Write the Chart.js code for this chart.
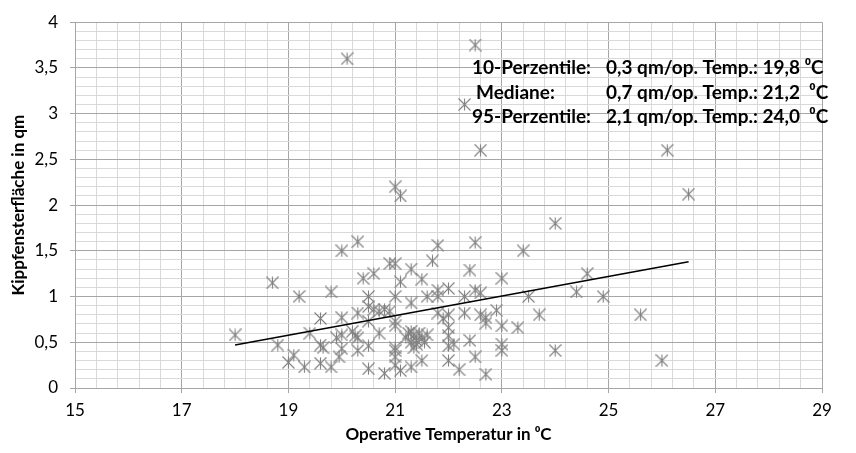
<!DOCTYPE html>
<html>
<head>
<meta charset="utf-8">
<script src="https://cdn.jsdelivr.net/npm/chart.js@4"></script>
<style>
  html, body { margin: 0; padding: 0; background: #fff; }
  #wrap { width: 856px; height: 453px; }
</style>
</head>
<body>
<div id="wrap"><canvas id="scatterChart"></canvas></div>
<script>
// Kippfensterfläche (qm) über operativer Temperatur (°C)
const temperatures = [
  18.0, 18.7, 18.8, 19.0, 19.1, 19.2, 19.3, 19.4, 19.6, 19.6,
  19.6, 19.65, 19.8, 19.8, 19.9, 19.95, 20.0, 20.0, 20.0, 20.0,
  20.1, 20.2, 20.25, 20.3, 20.3, 20.3, 20.3, 20.4, 20.5, 20.5,
  20.5, 20.5, 20.5, 20.6, 20.6, 20.7, 20.7, 20.8, 20.8, 20.9,
  20.9, 21.0, 21.0, 21.0, 21.0, 21.0, 21.0, 21.0, 21.0, 21.0,
  21.1, 21.1, 21.1, 21.3, 21.3, 21.3, 21.35, 21.2, 21.25, 21.3,
  21.35, 21.4, 21.45, 21.5, 21.55, 21.6, 21.3, 21.4, 21.5, 21.5,
  21.6, 21.7, 21.8, 21.8, 21.8, 21.8, 21.9, 22.0, 22.0, 22.0,
  22.0, 22.0, 22.0, 22.1, 22.2, 22.3, 22.3, 22.3, 22.4, 22.4,
  22.5, 22.5, 22.5, 22.5, 22.6, 22.6, 22.6, 22.7, 22.7, 22.7,
  22.9, 23.0, 23.0, 23.0, 23.0, 23.3, 23.4, 23.5, 23.7, 24.0,
  24.0, 24.4, 24.6, 24.9, 25.6, 26.0, 26.1, 26.5
];
const areas = [
  0.58, 1.15, 0.47, 0.28, 0.36, 1.0, 0.23, 0.6, 0.76, 0.27,
  0.47, 0.44, 1.05, 0.23, 0.55, 0.34, 0.43, 0.77, 0.58, 1.5,
  3.6, 0.62, 0.57, 1.6, 0.82, 0.41, 0.55, 1.2, 1.0, 0.89,
  0.73, 0.46, 0.21, 1.25, 0.86, 0.84, 0.6, 0.16, 0.86, 1.36,
  0.84, 1.36, 1.0, 0.73, 0.68, 0.44, 0.41, 0.34, 0.25, 2.2,
  2.1, 1.16, 0.19, 1.3, 0.93, 0.23, 0.44, 0.55, 0.6, 0.5,
  0.58, 0.52, 0.6, 0.55, 0.5, 0.58, 0.62, 0.48, 1.19, 0.3,
  1.0, 1.39, 1.56, 1.07, 1.0, 0.82, 0.76, 1.09, 0.8, 0.66,
  0.57, 0.46, 0.3, 0.48, 0.2, 1.0, 0.82, 3.1, 1.29, 0.52,
  3.75, 1.59, 1.07, 0.34, 2.6, 1.04, 0.8, 0.77, 0.71, 0.15,
  0.85, 1.2, 0.68, 0.48, 0.41, 0.66, 1.5, 1.0, 0.8, 1.8,
  0.41, 1.05, 1.25, 1.0, 0.8, 0.3, 2.6, 2.12
];

// linearer Trend (Endpunkte)
const trendTemps = [18.0, 26.5];
const trendAreas = [0.47, 1.38];

// beschriftete Hauptteilstriche
const xMajorTicks = [15, 17, 19, 21, 23, 25, 27, 29];
const yMajorTicks = [0, 0.5, 1, 1.5, 2, 2.5, 3, 3.5, 4];

// Kennwerte
const statLabels = ["10-Perzentile:", "Mediane:", "95-Perzentile:"];
const statAreas = ["0,3", "0,7", "2,1"];
const statTemps = ["19,8", "21,2", "24,0"];

const FONT = "Lato, 'Liberation Sans', sans-serif";

function isMajor(list, v) {
  return list.some((m) => Math.abs(m - v) < 1e-6);
}

function starMarker(size, color) {
  const c = document.createElement("canvas");
  c.width = size;
  c.height = size;
  const g = c.getContext("2d");
  g.strokeStyle = color;
  g.lineWidth = 1.1;
  g.beginPath();
  g.moveTo(0.5, 0.5);
  g.lineTo(size - 0.5, size - 0.5);
  g.moveTo(size - 0.5, 0.5);
  g.lineTo(0.5, size - 0.5);
  g.moveTo(size / 2, 0.5);
  g.lineTo(size / 2, size - 0.5);
  g.stroke();
  return c;
}

const marker = starMarker(13, "#808080");

const points = temperatures.map((t, i) => ({ x: t, y: areas[i] }));
const trend = trendTemps.map((t, i) => ({ x: t, y: trendAreas[i] }));

// Textblock mit den Perzentilen oben rechts
const statsText = {
  id: "statsText",
  afterDatasetsDraw(chart) {
    const ctx = chart.ctx;
    const rowsY = [68, 93, 117];
    const labelX = [472, 476, 472];
    ctx.save();
    ctx.fillStyle = "#000";
    ctx.textBaseline = "middle";
    ctx.font = "bold 19px " + FONT;
    statLabels.forEach((label, i) => {
      ctx.fillText(label, labelX[i], rowsY[i]);
      const gap = i === 0 ? " " : "  ";
      ctx.fillText(
        statAreas[i] + " qm/op. Temp.: " + statTemps[i] + gap + "\u2070C",
        606,
        rowsY[i]
      );
    });
    ctx.restore();
  },
};

const ctx = document.getElementById("scatterChart").getContext("2d");

new Chart(ctx, {
  type: "scatter",
  data: {
    datasets: [
      {
        data: points,
        pointStyle: marker,
        pointRadius: 6,
        pointHoverRadius: 6,
        order: 2,
      },
      {
        type: "line",
        data: trend,
        borderColor: "#000",
        borderWidth: 1.5,
        pointRadius: 0,
        fill: false,
        order: 1,
      },
    ],
  },
  options: {
    responsive: true,
    maintainAspectRatio: false,
    animation: false,
    layout: { padding: { top: 16, right: 34, left: 0, bottom: 0 } },
    plugins: {
      legend: { display: false },
      tooltip: { enabled: false },
    },
    scales: {
      x: {
        type: "linear",
        min: 15,
        max: 29,
        afterFit(scale) {
          scale.height = 65;
        },
        ticks: {
          stepSize: 0.4,
          autoSkip: false,
          maxRotation: 0,
          padding: 7,
          color: "#000",
          font: { family: FONT, size: 17 },
          callback: (v) => (isMajor(xMajorTicks, v) ? String(Math.round(v)) : ""),
        },
        grid: {
          color: (c) => (c.tick && isMajor(xMajorTicks, c.tick.value) ? "#a6a6a6" : "#d9d9d9"),
          tickColor: (c) => (c.tick && isMajor(xMajorTicks, c.tick.value) ? "#a6a6a6" : "rgba(0,0,0,0)"),
          tickLength: 5,
        },
        border: { color: "#a6a6a6" },
        title: {
          display: true,
          text: "Operative Temperatur in \u2070C",
          color: "#000",
          font: { family: FONT, size: 17, weight: "bold" },
          padding: { top: 0, bottom: 8 },
        },
      },
      y: {
        min: 0,
        max: 4,
        afterFit(scale) {
          scale.width = 75;
        },
        ticks: {
          stepSize: 0.1,
          autoSkip: false,
          padding: 12,
          color: "#000",
          font: { family: FONT, size: 17 },
          callback: (v) =>
            isMajor(yMajorTicks, v) ? String(Math.round(v * 10) / 10).replace(".", ",") : "",
        },
        grid: {
          color: (c) => (c.tick && isMajor(yMajorTicks, c.tick.value) ? "#a6a6a6" : "#d9d9d9"),
          tickColor: (c) => (c.tick && isMajor(yMajorTicks, c.tick.value) ? "#a6a6a6" : "rgba(0,0,0,0)"),
          tickLength: 5,
        },
        border: { color: "#a6a6a6" },
        title: {
          display: true,
          text: "Kippfensterfläche in qm",
          color: "#000",
          font: { family: FONT, size: 17, weight: "bold" },
          padding: { top: 8, bottom: 0 },
        },
      },
    },
  },
  plugins: [statsText],
});
</script>
</body>
</html>
